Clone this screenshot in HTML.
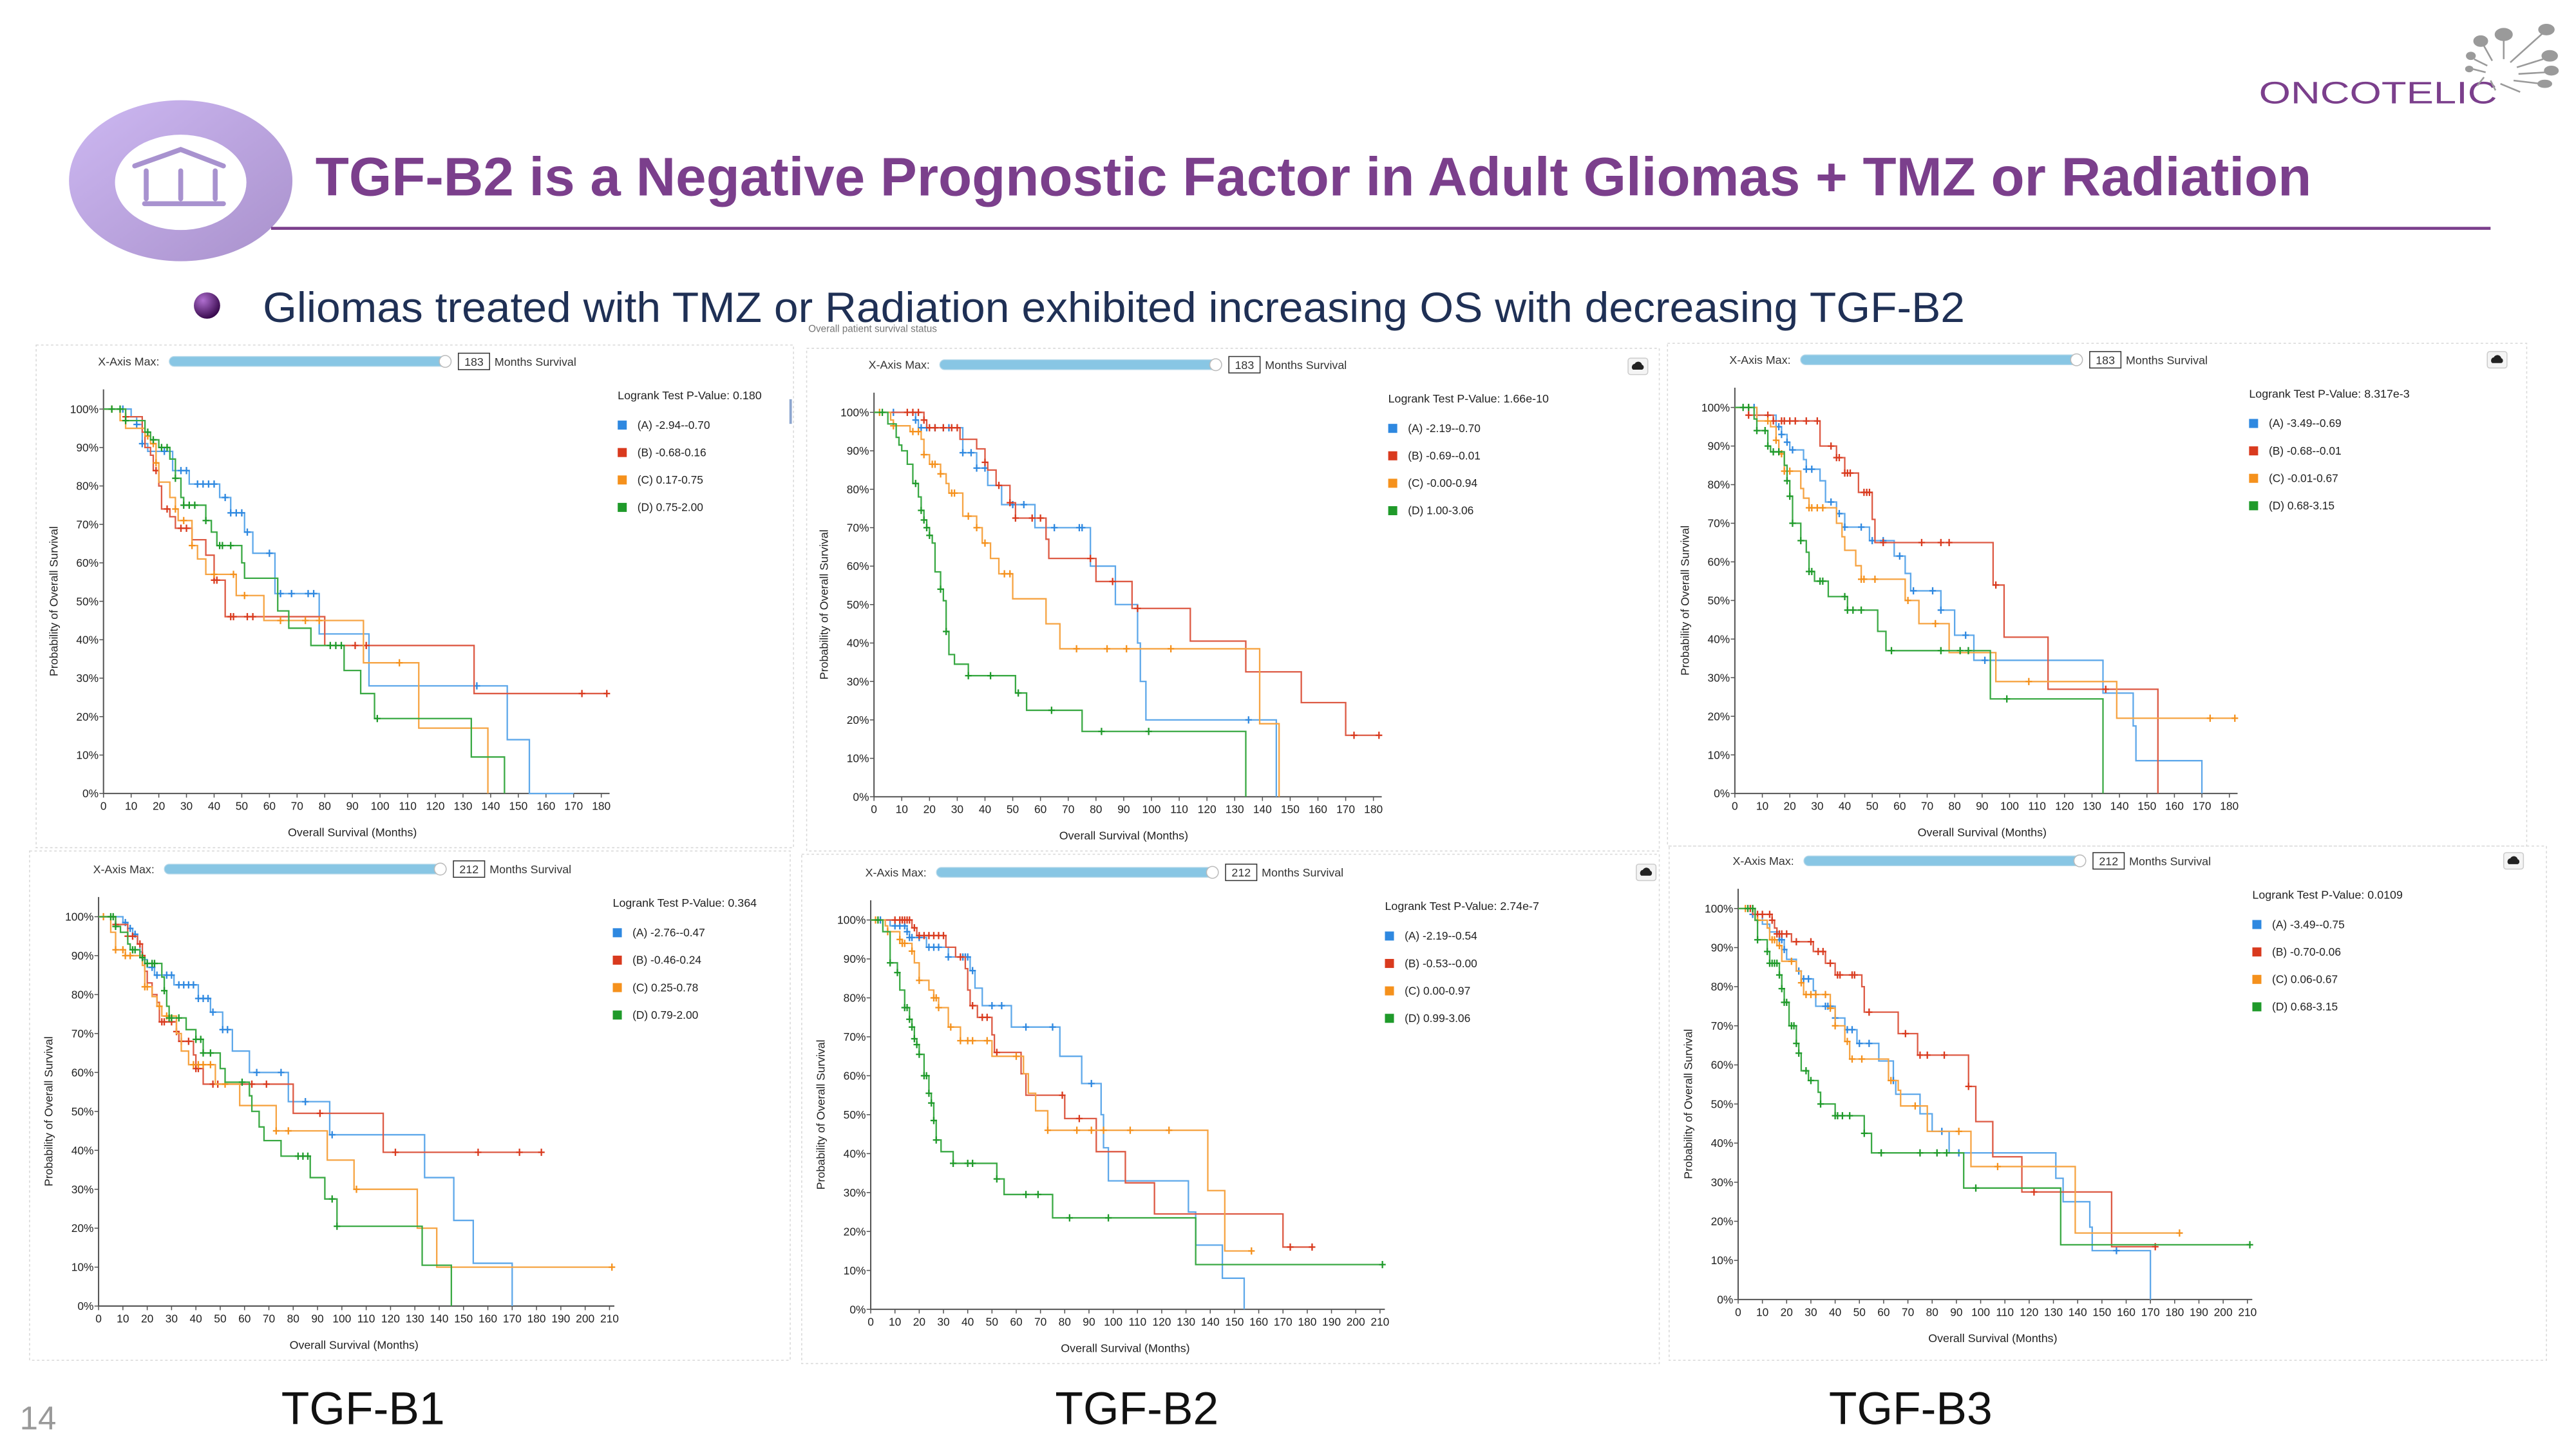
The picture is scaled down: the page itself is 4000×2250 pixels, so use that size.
<!DOCTYPE html>
<html>
<head>
<meta charset="utf-8">
<style>
html,body{margin:0;padding:0;background:#fff;}
svg{display:block;}
text{font-family:"Liberation Sans",Arial,sans-serif;}
</style>
</head>
<body>
<svg id="slide" width="4000" height="2250" viewBox="0 0 1568 882" xmlns="http://www.w3.org/2000/svg">
  <defs>
    <linearGradient id="ringGrad" x1="0" y1="0" x2="1" y2="1">
      <stop offset="0" stop-color="#cdb8f2"/>
      <stop offset="1" stop-color="#a991cc"/>
    </linearGradient>
    <radialGradient id="ballGrad" cx="0.35" cy="0.3" r="0.7">
      <stop offset="0" stop-color="#b06fd0"/>
      <stop offset="1" stop-color="#3a0b4f"/>
    </radialGradient>
  </defs>
  <rect x="0" y="0" width="1568" height="882" fill="#ffffff"/>

  <!-- header logo ring -->
  <g>
    <ellipse cx="110" cy="110" rx="68" ry="49" fill="url(#ringGrad)"/>
    <ellipse cx="110" cy="111" rx="40" ry="29" fill="#ffffff"/>
    <polyline points="82,101 110,91 136,101" fill="none" stroke="#a892cf" stroke-width="3" stroke-linecap="round"/>
    <line x1="89" y1="104" x2="89" y2="121" stroke="#a892cf" stroke-width="3" stroke-linecap="round"/>
    <line x1="110" y1="104" x2="110" y2="121" stroke="#a892cf" stroke-width="3" stroke-linecap="round"/>
    <line x1="131" y1="104" x2="131" y2="121" stroke="#a892cf" stroke-width="3" stroke-linecap="round"/>
    <line x1="88" y1="124" x2="136" y2="124" stroke="#a892cf" stroke-width="3" stroke-linecap="round"/>
  </g>
  <text x="192" y="119" font-size="33" font-weight="bold" fill="#7b3f8c" textLength="1215" lengthAdjust="spacingAndGlyphs">TGF-B2 is a Negative Prognostic Factor in Adult Gliomas + TMZ or Radiation</text>
  <line x1="165" y1="139" x2="1516" y2="139" stroke="#7b3f8c" stroke-width="1.8"/>

  <!-- company logo -->
  <g>
    <text x="1375" y="63" font-size="19" fill="#7b3f8c" textLength="145" lengthAdjust="spacingAndGlyphs">ONCOTELIC</text>
    <g stroke="#9a9a9a" stroke-width="1" fill="#9a9a9a">
      <line x1="1528" y1="38" x2="1548" y2="20"/><ellipse cx="1550" cy="18" rx="4.5" ry="3"/>
      <line x1="1524" y1="36" x2="1524" y2="23"/><ellipse cx="1524" cy="21" rx="5" ry="3.5"/>
      <line x1="1517" y1="37" x2="1512" y2="28"/><ellipse cx="1510" cy="25" rx="4" ry="3"/>
      <line x1="1514" y1="40" x2="1506" y2="36"/><ellipse cx="1504" cy="34" rx="2.5" ry="2"/>
      <line x1="1513" y1="44" x2="1505" y2="42"/><ellipse cx="1503" cy="42" rx="2" ry="1.5"/>
      <line x1="1532" y1="41" x2="1548" y2="36"/><ellipse cx="1552" cy="34" rx="4.5" ry="3"/>
      <line x1="1533" y1="45" x2="1550" y2="44"/><ellipse cx="1553" cy="43" rx="4" ry="2.5"/>
      <line x1="1530" y1="49" x2="1547" y2="51"/><ellipse cx="1549" cy="51" rx="4" ry="2"/>
      <line x1="1522" y1="51" x2="1534" y2="56"/><line x1="1516" y1="49" x2="1519" y2="55"/>
      <line x1="1512" y1="47" x2="1508" y2="52"/>
    </g>
  </g>

  <!-- bullet -->
  <circle cx="126" cy="186" r="8" fill="url(#ballGrad)"/>
  <text x="160" y="196" font-size="26" fill="#1f3055" textLength="1036" lengthAdjust="spacingAndGlyphs">Gliomas treated with TMZ or Radiation exhibited increasing OS with decreasing TGF-B2</text>
  <text x="492" y="202" font-size="6" fill="#777">Overall patient survival status</text>

  <g id="charts"></g>

  <text x="221" y="867" font-size="28" fill="#111" text-anchor="middle">TGF-B1</text>
  <text x="692" y="867" font-size="28" fill="#111" text-anchor="middle">TGF-B2</text>
  <text x="1163" y="867" font-size="28" fill="#111" text-anchor="middle">TGF-B3</text>
  <text x="12" y="870" font-size="20" fill="#999">14</text>
</svg>

<script>
// ===== Data (time in months, survival in %) =====
// Panel 1: TGF-B1 (183)
const p1_pvalue = "0.180";
const p1_labels = ["(A) -2.94--0.70","(B) -0.68-0.16","(C) 0.17-0.75","(D) 0.75-2.00"];
const p1A_t = [0,10,12,14,16,25,31,42,46,51,54,62,78,96,146,154,170];
const p1A_s = [100,98,96,91,89,84,80.5,77,73,68,62.5,52,41.5,28,14,0,0];
const p1B_t = [0,8,14,15,17,18,20,21,24,26,32,37,40,44,80,134];
const p1B_s = [100,98,94,90,88,84,80,74,72,69,66,62,55.5,46,38.5,26];
const p1C_t = [0,6,8,15,17,19,20,24,26,27,32,34,37,48,58,94,114,139];
const p1C_s = [100,97,95,93,91,86,81,77,74,71,64.5,61,57,51.5,45,34,17,0];
const p1D_t = [0,8,15,17,20,24,26,28,29,37,39,41,50,51,63,67,75,87,93,98,133,145];
const p1D_s = [100,97,94,92,90,87,82,77,75,71,68,64.5,60,56,47.5,43,38.5,32,26,19.5,9.5,0];
const p1_end = [170,182,139,145];
const p1A_c = [7,12,14,22,28,30,34,36,38,40,44,46,48,50,52,60,64,68,74,76,135];
const p1B_c = [8,19,23,28,30,40,41,46,47,52,54,91,95,173,182];
const p1C_c = [3,16,18,19,26,29,32,40,47,51,64,73,78,107];
const p1D_c = [3,6,8,16,18,21,23,26,29,31,33,37,42,43,46,82,84,86,99];

// Panel 2: TGF-B2 (183)
const p2_pvalue = "1.66e-10";
const p2_labels = ["(A) -2.19--0.70","(B) -0.69--0.01","(C) -0.00-0.94","(D) 1.00-3.06"];
const p2A_t = [0,15,16,32,37,41,46,58,78,87,95,96,98,145];
const p2A_s = [100,98,96,89.5,85.5,81,76,70,60,50,40,30,20,0];
const p2B_t = [0,18,19,31,37,40,41,44,49,51,62,63,80,93,114,134,154,170];
const p2B_s = [100,98,96,93,90.5,87,85,81,76.5,72.5,67,62,56,49,40.5,32.5,24.5,16];
const p2C_t = [0,6,7,13,17,18,20,24,26,27,32,37,39,42,45,50,62,67,139,146];
const p2C_s = [100,98,96.5,95,93,89,86.5,84,81.5,79,73,70,66,62,58,51.5,45,38.5,19,0];
const p2D_t = [0,5,8,9,10,12,14,16,17,18,19,20,21,22,24,25,26,27,29,34,51,55,75,134];
const p2D_s = [100,97,93.5,91.5,90,86.5,81.5,78,74.5,72,70,68,66,58.5,54,51,43,37,34.5,31.5,27,22.5,17,0];
const p2_end = [145,182,146,134];
const p2A_c = [7,15,17,19,22,25,27,32,35,37,40,50,54,65,74,75,135];
const p2B_c = [12,14,16,18,20,22,25,28,30,40,45,49,51,57,60,78,86,95,173,182];
const p2C_c = [2,7,14,16,18,21,22,24,28,29,34,37,40,47,49,73,84,91,107];
const p2D_c = [3,15,17,18,19,20,24,26,34,42,52,64,82,99];

// Panel 3: TGF-B3 (183)
const p3_pvalue = "8.317e-3";
const p3_labels = ["(A) -3.49--0.69","(B) -0.68--0.01","(C) -0.01-0.67","(D) 0.68-3.15"];
const p3A_t = [0,8,15,17,19,20,25,26,31,33,37,40,49,58,62,64,75,80,87,134,145,146,170];
const p3A_s = [100,98,95,93,91,89,86.5,84,81,75.5,72.5,69,65.5,61.5,57,52.5,47.5,41,34.5,26,17.5,8.5,0];
const p3B_t = [0,5,14,31,37,40,45,50,51,94,98,114,154];
const p3B_s = [100,98,96.5,90,87,83,78,71,65,54,40.5,27,0];
const p3C_t = [0,8,13,15,16,18,24,25,27,37,39,40,44,46,62,67,78,95,139];
const p3C_s = [100,96.5,95,91.5,88,83.5,79,76.5,74,70,66.5,63,59,55.5,50,44,36.5,29,19.5];
const p3D_t = [0,7,8,12,13,18,19,20,21,24,26,27,29,34,41,52,55,93,134];
const p3D_s = [100,97,94,90,88.5,85,81,77,70,65.5,62.5,57.5,55,51,47.5,42,37,24.5,0];
const p3_end = [170,154,182,134];
const p3A_c = [7,8,16,17,19,21,26,28,35,38,40,46,50,54,60,65,72,75,84,91];
const p3B_c = [5,12,14,17,18,20,22,26,30,35,37,38,40,41,42,47,48,49,54,68,75,78,95,135];
const p3C_c = [5,12,15,17,18,20,27,28,30,32,46,47,51,63,73,107,173,182];
const p3D_c = [3,5,8,11,12,14,16,19,20,21,24,27,28,31,32,40,41,43,46,57,75,82,85,99];

// Panel 4: TGF-B1 (212)
const p4_pvalue = "0.364";
const p4_labels = ["(A) -2.76--0.47","(B) -0.46-0.24","(C) 0.25-0.78","(D) 0.79-2.00"];
const p4A_t = [0,10,12,14,16,17,18,20,23,31,41,46,51,55,62,78,95,134,146,154,170];
const p4A_s = [100,98.5,97,95.5,93,91,89,87,85,82.5,79,75.5,71,65.5,60,52.5,44,33,22,11,0];
const p4B_t = [0,7,12,16,18,19,20,22,24,25,32,33,39,40,43,80,117];
const p4B_s = [100,98,95,93,90,86,83,80,78,73,70.5,68,64.5,61,57,49.5,39.5];
const p4C_t = [0,5,7,11,18,19,22,24,26,32,34,37,48,58,73,94,105,131,139];
const p4C_s = [100,96,91.5,90,87.5,82,79.5,77,74.5,70,65.5,62,57,51.5,45,37.5,30,20,10];
const p4D_t = [0,7,9,12,13,17,19,26,27,28,29,36,40,43,50,52,62,63,66,68,75,87,93,98,133,145];
const p4D_s = [100,97.5,96,93,91.5,89.5,88,84.5,81,77,74,71,68.5,65,61,57.5,54,50,46,42.5,38.5,33,27.5,20.5,10.5,0];
const p4_end = [170,182,211,145];
const p4A_c = [11,13,15,22,24,28,30,33,35,37,39,41,43,45,47,51,53,65,75,85,96];
const p4B_c = [7,12,14,17,18,26,27,30,32,34,37,40,41,47,49,63,69,91,122,156,173,182];
const p4C_c = [2,7,10,11,13,19,20,25,28,39,41,43,46,52,73,78,106,211];
const p4D_c = [5,6,7,14,15,18,20,22,23,27,29,30,33,40,42,43,46,59,82,84,86,96,98];

// Panel 5: TGF-B2 (212)
const p5_pvalue = "2.74e-7";
const p5_labels = ["(A) -2.19--0.54","(B) -0.53--0.00","(C) 0.00-0.97","(D) 0.99-3.06"];
const p5A_t = [0,8,15,16,23,32,41,43,46,58,78,87,95,96,98,131,134,145,154];
const p5A_s = [100,98.5,97,95.5,93,90.5,87,82.5,78,72.5,65,58,50,41.5,33,25,16.5,8,0];
const p5B_t = [0,17,19,31,35,39,40,41,44,50,51,62,64,80,93,105,117,170];
const p5B_s = [100,98,96,93,90.5,87.5,82,78,75,70.5,66,60.5,55,49,40.5,32.5,24.5,16];
const p5C_t = [0,6,7,12,13,17,18,20,24,26,28,32,37,50,63,65,68,73,139,146];
const p5C_s = [100,98.5,97,95,94,92,89,84.5,82,80,77.5,72.5,69,65,60.5,55.5,51,46,30.5,15];
const p5D_t = [0,5,8,11,12,14,16,17,18,19,20,22,24,25,26,27,29,34,52,55,75,134];
const p5D_s = [100,97,89,86.5,82,77.5,74.5,72.5,69.5,68,65.5,60,55.5,53,48.5,43.5,40.5,37.5,33.5,29.5,23.5,11.5];
const p5_end = [154,182,157,211];
const p5A_c = [4,10,12,14,15,16,17,20,24,26,28,32,38,39,40,42,50,54,64,75,91];
const p5B_c = [10,12,13,14,15,16,18,20,22,24,26,28,30,37,42,46,48,52,79,86,173,182];
const p5C_c = [2,7,12,13,14,17,20,26,27,28,33,37,40,42,48,60,73,85,91,96,107,123,157];
const p5D_c = [3,8,11,14,15,16,17,18,19,20,22,23,24,25,26,27,34,40,42,52,64,69,82,98,211];

// Panel 6: TGF-B3 (212)
const p6_pvalue = "0.0109";
const p6_labels = ["(A) -3.49--0.75","(B) -0.70-0.06","(C) 0.06-0.67","(D) 0.68-3.15"];
const p6A_t = [0,6,10,13,17,19,20,24,26,31,32,40,44,49,58,64,65,75,80,87,131,134,145,146,170];
const p6A_s = [100,98.5,96,94,92,89.5,87,84,82,79,75,72,69,65.5,61,56,52.5,47.5,43,37.5,31,25,18.5,12.5,0];
const p6B_t = [0,6,14,15,16,22,31,36,40,51,52,66,74,95,98,105,117,154];
const p6B_s = [100,98.5,97,95,93.5,91.5,89,86,83,80,73.5,68,62.5,54.5,45.5,36.5,27.5,13.5];
const p6C_t = [0,7,12,13,16,18,24,26,27,38,40,44,46,62,66,67,78,96,139];
const p6C_s = [100,97,95,92,90.5,86.5,84,81,78,74.5,70,66,61.5,56,53.5,49.5,43,34,17];
const p6D_t = [0,7,8,12,13,17,18,19,21,24,25,26,29,33,34,40,52,55,93,133];
const p6D_s = [100,97,92,89,86,83,79.5,76,70,65.5,63,58.5,56,53,50,47,42.5,37.5,28.5,14];
const p6_end = [170,172,182,211];
const p6A_c = [6,17,18,19,25,27,29,36,37,38,40,45,47,50,54,64,84,91,156];
const p6B_c = [5,8,10,13,14,16,17,18,20,24,30,33,35,38,41,42,47,48,54,69,75,78,85,95,122,172];
const p6C_c = [3,6,8,14,15,17,22,26,28,30,32,36,38,40,45,47,51,63,73,91,107,182];
const p6D_c = [4,6,8,12,13,14,15,16,17,18,19,20,22,23,24,25,28,30,34,40,41,43,46,52,59,75,82,86,98,211];

// ===== Layout (not data) =====
const COLORS = ["#2e88e0","#d93a1e","#f5911c","#1f9a2a"];
const LINE_COLORS = ["#5ea8ea","#dd5a44","#f6a443","#3aa944"];
const panels = [
  {x0:63, x1:366, xmax:180, axisMax:183, y100:249, y0:483, box:[22,210,461,306], dl:null, pv:p1_pvalue, labels:p1_labels,
   T:[p1A_t,p1B_t,p1C_t,p1D_t], S:[p1A_s,p1B_s,p1C_s,p1D_s], C:[p1A_c,p1B_c,p1C_c,p1D_c], E:p1_end, sl:"183"},
  {x0:532, x1:836, xmax:180, axisMax:183, y100:251, y0:485, box:[491,212,519,306], dl:[991,218], pv:p2_pvalue, labels:p2_labels,
   T:[p2A_t,p2B_t,p2C_t,p2D_t], S:[p2A_s,p2B_s,p2C_s,p2D_s], C:[p2A_c,p2B_c,p2C_c,p2D_c], E:p2_end, sl:"183"},
  {x0:1056, x1:1357, xmax:180, axisMax:183, y100:248, y0:483, box:[1015,209,523,306], dl:[1514,214], pv:p3_pvalue, labels:p3_labels,
   T:[p3A_t,p3B_t,p3C_t,p3D_t], S:[p3A_s,p3B_s,p3C_s,p3D_s], C:[p3A_c,p3B_c,p3C_c,p3D_c], E:p3_end, sl:"183"},
  {x0:60, x1:371, xmax:210, axisMax:212, y100:558, y0:795, box:[18,518,463,310], dl:null, pv:p4_pvalue, labels:p4_labels,
   T:[p4A_t,p4B_t,p4C_t,p4D_t], S:[p4A_s,p4B_s,p4C_s,p4D_s], C:[p4A_c,p4B_c,p4C_c,p4D_c], E:p4_end, sl:"212"},
  {x0:530, x1:840, xmax:210, axisMax:212, y100:560, y0:797, box:[488,520,522,310], dl:[996,526], pv:p5_pvalue, labels:p5_labels,
   T:[p5A_t,p5B_t,p5C_t,p5D_t], S:[p5A_s,p5B_s,p5C_s,p5D_s], C:[p5A_c,p5B_c,p5C_c,p5D_c], E:p5_end, sl:"212"},
  {x0:1058, x1:1368, xmax:210, axisMax:212, y100:553, y0:791, box:[1016,515,534,313], dl:[1524,519], pv:p6_pvalue, labels:p6_labels,
   T:[p6A_t,p6B_t,p6C_t,p6D_t], S:[p6A_s,p6B_s,p6C_s,p6D_s], C:[p6A_c,p6B_c,p6C_c,p6D_c], E:p6_end, sl:"212"}
];
const SERIES_NAMES = ["a","b","c","d"];
const NS = "http://www.w3.org/2000/svg";
const root = document.getElementById("charts");

function mk(tag, attrs, parent, txt){
  const e = document.createElementNS(NS, tag);
  for (const k in attrs) e.setAttribute(k, attrs[k]);
  if (txt !== undefined) e.textContent = txt;
  parent.appendChild(e);
  return e;
}
function survAt(t, ts, ss){
  let v = ss[0];
  for (let i=0;i<ts.length;i++){ if (ts[i] <= t) v = ss[i]; }
  return v;
}

panels.forEach((p, pi) => {
  const g = mk("g", {}, root);
  
  
  const xs = t => p.x0 + (t / p.xmax) * (p.x1 - p.x0);
  const ys = s => p.y0 - (s / 100) * (p.y0 - p.y100);

  // panel border
  const br = mk("rect", {x:p.box[0], y:p.box[1], width:p.box[2], height:p.box[3], fill:"none", stroke:"#d8d8d8", "stroke-width":0.6, "stroke-dasharray":"1.5,1.5"}, g);
  
  

  // slider
  const sy = p.y100 - 29;
  const lab = mk("text", {x:p.x0+34, y:sy+2.5, "font-size":7, fill:"#333", "text-anchor":"end"}, g, "X-Axis Max:");
  
  
  const bar = mk("rect", {x:p.x0+40, y:sy-3, width:169, height:6, rx:3, fill:"#88c6e4", stroke:"#b7d9ea", "stroke-width":0.5}, g);
  
  
  const knob = mk("circle", {cx:p.x0+208, cy:sy, r:3.6, fill:"#fff", stroke:"#bbb", "stroke-width":0.6}, g);
  
  
  const ib = mk("rect", {x:p.x0+216, y:sy-5, width:19, height:10, fill:"#fff", stroke:"#333", "stroke-width":0.6}, g);
  
  
  const it = mk("text", {x:p.x0+225.5, y:sy+2.6, "font-size":7, fill:"#333", "text-anchor":"middle"}, g, p.sl);
  
  
  const ms = mk("text", {x:p.x0+238, y:sy+2.6, "font-size":7, fill:"#333"}, g, "Months Survival");
  
  

  if (p.dl){
    const db = mk("rect", {x:p.dl[0], y:p.dl[1], width:12, height:10, rx:1.5, fill:"#f4f4f4", stroke:"#ccc", "stroke-width":0.6}, g);
    
    
    const di = mk("path", {d:`M${p.dl[0]+3},${p.dl[1]+7} a2,2 0 0 1 1,-3.5 a2.4,2.4 0 0 1 4.5,0.5 a1.6,1.6 0 0 1 0,3 z`, fill:"#222"}, g);
    
    
  }

  // axes
  const ya = mk("line", {x1:p.x0, y1:p.y100-12, x2:p.x0, y2:p.y0, stroke:"#555", "stroke-width":0.8}, g);
  
  
  const xa = mk("line", {x1:p.x0, y1:p.y0, x2:xs(p.axisMax), y2:p.y0, stroke:"#555", "stroke-width":0.8}, g);
  
  
  for (let v=0; v<=100; v+=10){
    const y = ys(v);
    mk("line", {x1:p.x0-2.5, y1:y, x2:p.x0, y2:y, stroke:"#555", "stroke-width":0.6}, g);
    const tl = mk("text", {x:p.x0-3, y:y+2.4, "font-size":6.8, fill:"#222", "text-anchor":"end"}, g, v + "%");
    
    
  }
  for (let v=0; v<=p.xmax; v+=10){
    const x = xs(v);
    mk("line", {x1:x, y1:p.y0, x2:x, y2:p.y0+2.5, stroke:"#555", "stroke-width":0.6}, g);
    const tl = mk("text", {x:x, y:p.y0+10, "font-size":6.8, fill:"#222", "text-anchor":"middle"}, g, String(v));
    
    
  }
  const yc = (p.y0 + p.y100)/2;
  const yt = mk("text", {x:p.x0-28, y:yc, "font-size":7, fill:"#222", "text-anchor":"middle", transform:`rotate(-90 ${p.x0-28} ${yc})`}, g, "Probability of Overall Survival");
  
  
  const xt = mk("text", {x:(p.x0+p.x1)/2, y:p.y0+26, "font-size":7, fill:"#222", "text-anchor":"middle"}, g, "Overall Survival (Months)");
  
  

  // series
  for (let si=0; si<4; si++){
    const ts = p.T[si], ss = p.S[si], end = p.E[si];
    let d = `M${xs(ts[0]).toFixed(2)},${ys(ss[0]).toFixed(2)}`;
    for (let i=1;i<ts.length;i++){
      d += ` H${xs(ts[i]).toFixed(2)} V${ys(ss[i]).toFixed(2)}`;
    }
    if (ss[ss.length-1] > 0) d += ` H${xs(end).toFixed(2)}`;
    const path = mk("path", {d:d, fill:"none", stroke:LINE_COLORS[si], "stroke-width":0.9}, g);
    
    
    const cg = mk("g", {stroke:COLORS[si], "stroke-width":0.9}, g);
    
    
    p.C[si].forEach(ct => {
      if (ct > end) return;
      const cx = xs(ct), cy = ys(survAt(ct, ts, ss));
      mk("line", {x1:cx-2, y1:cy, x2:cx+2, y2:cy}, cg);
      mk("line", {x1:cx, y1:cy-2.2, x2:cx, y2:cy+2.2}, cg);
    });
  }

  // legend
  const lx = p.x0 + 313, ly = p.y100 - 6;
  const lt = mk("text", {x:lx, y:ly, "font-size":7, fill:"#222"}, g, "Logrank Test P-Value: " + p.pv);
  
  
  for (let si=0; si<4; si++){
    const ey = ly + 18 + si*16.7;
    const le = mk("g", {}, g);
    
    
    mk("rect", {x:lx, y:ey-5, width:5.5, height:5.5, fill:COLORS[si]}, le);
    mk("text", {x:lx+12, y:ey, "font-size":6.8, fill:"#222"}, le, p.labels[si]);
  }
});
// small scrollbar artefact on first panel
const sc = mk("rect", {x:480.5, y:243, width:1.5, height:15, fill:"#8da6cf"}, root);


</script>
</body>
</html>
